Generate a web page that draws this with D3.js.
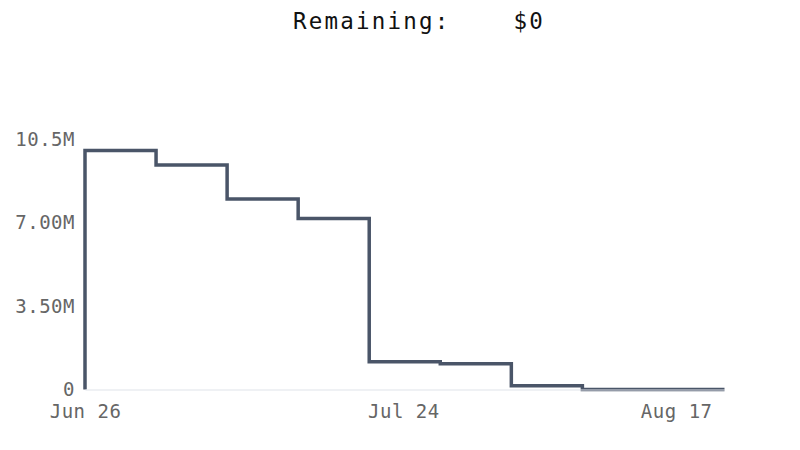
<!DOCTYPE html>
<html>
<head>
<meta charset="utf-8">
<script src="https://cdn.jsdelivr.net/npm/d3@7"></script>
<style>
  html, body { margin: 0; padding: 0; background: #fff; }
  svg { display: block; }
  text { font-family: "DejaVu Sans Mono", monospace; }
</style>
</head>
<body>
<svg id="chart" width="800" height="450"></svg>
<script>
// ---- data ----
const titleLabel = "Remaining:";
const titleValue = "$0";
const periodDates = [
  "2023-06-26T00:00", "2023-07-02T06:00", "2023-07-08T12:00", "2023-07-14T18:00",
  "2023-07-21T00:00", "2023-07-27T06:00", "2023-08-02T12:00", "2023-08-08T18:00",
  "2023-08-15T00:00", "2023-08-21T06:00"
];
const remainingValues = [10.02, 9.41, 7.98, 7.17, 1.16, 1.08, 0.155, 0, 0, 0]; // millions
const yTickValues = [0, 3.5, 7, 10.5];
const yTickLabels = ["0", "3.50M", "7.00M", "10.5M"];
const xTickDates = ["2023-06-26T00:00", "2023-07-24T00:00", "2023-08-17T00:00"];
const xTickLabels = ["Jun 26", "Jul 24", "Aug 17"];

// ---- setup ----
const parse = d3.timeParse("%Y-%m-%dT%H:%M");
const dates = periodDates.map(parse);
const svg = d3.select("#chart");

const x = d3.scaleTime()
  .domain([dates[0], dates[dates.length - 1]])
  .range([85, 724.5]);
const y = d3.scaleLinear()
  .domain([0, 10.5])
  .range([389.5, 139]);

// title
svg.append("text")
  .attr("x", 293)
  .attr("y", 29)
  .attr("font-size", 22.5)
  .attr("letter-spacing", 2.2)
  .attr("fill", "#111")
  .style("white-space", "pre")
  .text(titleLabel + "    " + titleValue);

// step line data: start at zero then follow steps
const pts = [{d: dates[0], v: 0}].concat(dates.map((d, i) => ({d, v: remainingValues[i]})));

const line = d3.line()
  .x(p => x(p.d))
  .y(p => y(p.v))
  .curve(d3.curveStepAfter);

svg.append("path")
  .datum(pts)
  .attr("fill", "none")
  .attr("stroke", "#4a5568")
  .attr("stroke-width", 3.5)
  .attr("d", line);

// x axis (domain line drawn on top of the series)
const xAxis = d3.axisBottom(x)
  .tickValues(xTickDates.map(parse))
  .tickFormat((d, i) => xTickLabels[i])
  .tickSize(0)
  .tickPadding(15);

const gx = svg.append("g")
  .attr("transform", `translate(0,${y(0)})`)
  .call(xAxis);
gx.select(".domain").attr("stroke", "#dfe3ea").attr("stroke-width", 1.2);
gx.selectAll("text")
  .attr("font-family", "DejaVu Sans Mono, monospace")
  .attr("font-size", 19)
  .attr("letter-spacing", 0.5)
  .attr("fill", "#666");

// y axis (labels only)
const yAxis = d3.axisLeft(y)
  .tickValues(yTickValues)
  .tickFormat((d, i) => yTickLabels[i])
  .tickSize(0)
  .tickPadding(0);
const gy = svg.append("g")
  .attr("transform", "translate(75,0)")
  .call(yAxis);
gy.select(".domain").remove();
gy.selectAll("text")
  .attr("font-family", "DejaVu Sans Mono, monospace")
  .attr("font-size", 19)
  .attr("letter-spacing", 0.5)
  .attr("fill", "#666");
</script>
</body>
</html>
